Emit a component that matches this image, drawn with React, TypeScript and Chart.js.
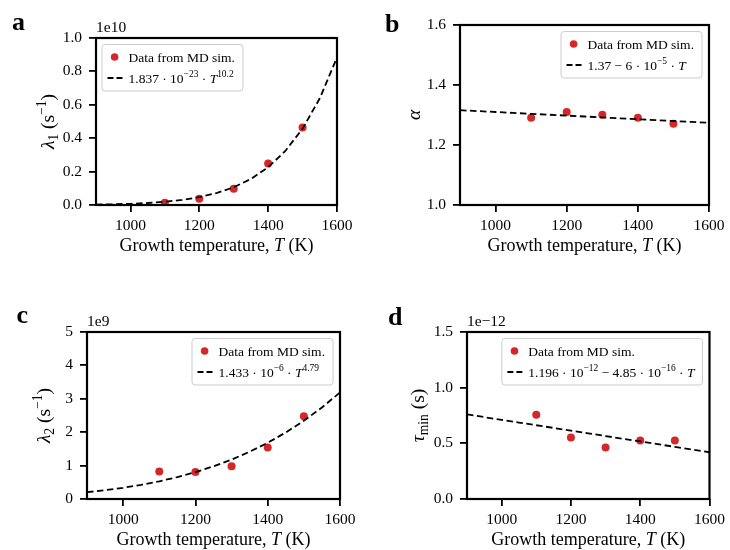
import React, { useEffect, useRef } from "react";
import { Chart, registerables } from "chart.js";

Chart.register(...registerables);

const SERIF = "'Liberation Serif', 'Times New Roman', Times, serif";
const RED = "#d62728";

// ---- shared x data ----
const simT = [1100, 1200, 1300, 1400, 1500];
const fitT = [900, 950, 1000, 1050, 1100, 1150, 1200, 1250, 1300, 1350, 1400, 1450, 1500, 1550, 1600];
const xTicks = [1000, 1200, 1400, 1600];
const xTickLabels = ["1000", "1200", "1400", "1600"];

// ---- panel a: lambda_1 (x 1e10 s^-1) ----
const lambda1Sim = [0.014, 0.038, 0.098, 0.249, 0.464];
const lambda1Fit = [0.0025, 0.0043, 0.0073, 0.012, 0.0193, 0.0304, 0.047, 0.0712, 0.1062, 0.1562, 0.2262, 0.3237, 0.4572, 0.639, 0.8833];
const lambda1Ticks = [0, 0.2, 0.4, 0.6, 0.8, 1.0];
const lambda1TickLabels = ["0.0", "0.2", "0.4", "0.6", "0.8", "1.0"];

// ---- panel b: alpha ----
const alphaSim = [1.291, 1.31, 1.301, 1.291, 1.271];
const alphaFit = [1.316, 1.313, 1.31, 1.307, 1.304, 1.301, 1.298, 1.295, 1.292, 1.289, 1.286, 1.283, 1.28, 1.277, 1.274];
const alphaTicks = [1.0, 1.2, 1.4, 1.6];
const alphaTickLabels = ["1.0", "1.2", "1.4", "1.6"];

// ---- panel c: lambda_2 (x 1e9 s^-1) ----
const lambda2Sim = [0.825, 0.805, 0.984, 1.54, 2.475];
const lambda2Fit = [0.2028, 0.2627, 0.3359, 0.4244, 0.5303, 0.656, 0.8047, 0.9783, 1.1804, 1.4143, 1.6836, 1.9918, 2.3434, 2.7406, 3.19];
const lambda2Ticks = [0, 1, 2, 3, 4, 5];
const lambda2TickLabels = ["0", "1", "2", "3", "4", "5"];

// ---- panel d: tau_min (x 1e-12 s) ----
const tauSim = [0.756, 0.553, 0.463, 0.526, 0.526];
const tauFit = [0.7595, 0.7353, 0.711, 0.6868, 0.6625, 0.6383, 0.614, 0.5898, 0.5655, 0.5413, 0.517, 0.4928, 0.4685, 0.4443, 0.42];
const tauTicks = [0, 0.5, 1.0, 1.5];
const tauTickLabels = ["0.0", "0.5", "1.0", "1.5"];

type Seg = { t: string; it?: boolean; sup?: boolean; sub?: boolean };

const X_TITLE: Seg[] = [{ t: "Growth temperature, " }, { t: "T", it: true }, { t: " (K)" }];
const LEGEND_DATA = "Data from MD sim.";

function segFont(s: Seg, size: number) {
  const sz = s.sup || s.sub ? size * 0.7 : size;
  return `${s.it ? "italic " : ""}${sz}px ${SERIF}`;
}
function measureRich(ctx: CanvasRenderingContext2D, segs: Seg[], size: number) {
  let w = 0;
  for (const s of segs) {
    ctx.font = segFont(s, size);
    w += ctx.measureText(s.t).width;
  }
  return w;
}
function drawRich(ctx: CanvasRenderingContext2D, segs: Seg[], x: number, y: number, size: number) {
  let cx = x;
  for (const s of segs) {
    ctx.font = segFont(s, size);
    const dy = s.sup ? -size * 0.42 : s.sub ? size * 0.22 : 0;
    ctx.fillText(s.t, cx, y + dy);
    cx += ctx.measureText(s.t).width;
  }
}

type Spec = {
  key: string;
  ox: number; oy: number;
  rect: { l: number; r: number; t: number; b: number };
  letter: string; letterX: number; letterY: number;
  offsetText?: string;
  yTitle: Seg[]; yTitleDx: number;
  legendSide: "left" | "right";
  formula: Seg[];
  sim: number[]; fit: number[];
  yMin: number; yMax: number;
  yTicks: number[]; yTickLabels: string[];
};

const specs: Spec[] = [
  {
    key: "a", ox: 0, oy: 0, rect: { l: 96, r: 337, t: 38, b: 205 },
    letter: "a", letterX: 12, letterY: 30, offsetText: "1e10",
    yTitle: [{ t: "λ", it: true }, { t: "1", sub: true }, { t: " (s" }, { t: "−1", sup: true }, { t: ")" }],
    yTitleDx: -42, legendSide: "left",
    formula: [{ t: "1.837 · 10" }, { t: "−23", sup: true }, { t: " · " }, { t: "T", it: true }, { t: "10.2", sup: true }],
    sim: lambda1Sim, fit: lambda1Fit, yMin: 0, yMax: 1.0, yTicks: lambda1Ticks, yTickLabels: lambda1TickLabels,
  },
  {
    key: "b", ox: 365, oy: 0, rect: { l: 460, r: 709, t: 25, b: 205 },
    letter: "b", letterX: 385, letterY: 31.5,
    yTitle: [{ t: "α", it: true }],
    yTitleDx: -40, legendSide: "right",
    formula: [{ t: "1.37 − 6 · 10" }, { t: "−5", sup: true }, { t: " · " }, { t: "T", it: true }],
    sim: alphaSim, fit: alphaFit, yMin: 1.0, yMax: 1.6, yTicks: alphaTicks, yTickLabels: alphaTickLabels,
  },
  {
    key: "c", ox: 0, oy: 275, rect: { l: 87, r: 340, t: 332, b: 499 },
    letter: "c", letterX: 16.5, letterY: 322.5, offsetText: "1e9",
    yTitle: [{ t: "λ", it: true }, { t: "2", sub: true }, { t: " (s" }, { t: "−1", sup: true }, { t: ")" }],
    yTitleDx: -37, legendSide: "right",
    formula: [{ t: "1.433 · 10" }, { t: "−6", sup: true }, { t: " · " }, { t: "T", it: true }, { t: "4.79", sup: true }],
    sim: lambda2Sim, fit: lambda2Fit, yMin: 0, yMax: 5, yTicks: lambda2Ticks, yTickLabels: lambda2TickLabels,
  },
  {
    key: "d", ox: 365, oy: 275, rect: { l: 467, r: 713, t: 332, b: 499 },
    letter: "d", letterX: 388, letterY: 325, offsetText: "1e−12",
    yTitle: [{ t: "τ", it: true }, { t: "min", sub: true }, { t: " (s)" }],
    yTitleDx: -43.5, legendSide: "right",
    formula: [{ t: "1.196 · 10" }, { t: "−12", sup: true }, { t: " − 4.85 · 10" }, { t: "−16", sup: true }, { t: " · " }, { t: "T", it: true }],
    sim: tauSim, fit: tauFit, yMin: 0, yMax: 1.5, yTicks: tauTicks, yTickLabels: tauTickLabels,
  },
];

const CW = 365;
const CH = 275;
const YW = 45;
const XH = 35;

function makeDecor(spec: Spec) {
  return {
    id: "decor" + spec.key,
    afterDraw(chart: any) {
      const ctx: CanvasRenderingContext2D = chart.ctx;
      const ca = chart.chartArea;
      ctx.save();
      ctx.fillStyle = "#000";
      ctx.textAlign = "left";
      ctx.textBaseline = "alphabetic";
      // frame
      ctx.strokeStyle = "#000";
      ctx.lineWidth = 2.2;
      ctx.setLineDash([]);
      ctx.strokeRect(ca.left, ca.top, ca.right - ca.left, ca.bottom - ca.top);
      // panel letter
      ctx.font = `bold 26px ${SERIF}`;
      ctx.fillText(spec.letter, spec.letterX - spec.ox, spec.letterY - spec.oy);
      // offset text
      if (spec.offsetText) {
        ctx.font = `15.5px ${SERIF}`;
        ctx.fillText(spec.offsetText, ca.left, ca.top - 6.5);
      }
      // x title
      const xs = 18;
      const wx = measureRich(ctx, X_TITLE, xs);
      drawRich(ctx, X_TITLE, (ca.left + ca.right) / 2 - wx / 2, ca.bottom + 45.5, xs);
      // y title
      const ys = 19.5;
      const wy = measureRich(ctx, spec.yTitle, ys);
      ctx.save();
      ctx.translate(ca.left + spec.yTitleDx, (ca.top + ca.bottom) / 2);
      ctx.rotate(-Math.PI / 2);
      drawRich(ctx, spec.yTitle, -wy / 2, 0, ys);
      ctx.restore();
      // legend
      const ls = 13.5;
      ctx.font = `${ls}px ${SERIF}`;
      const w1 = ctx.measureText(LEGEND_DATA).width;
      const w2 = measureRich(ctx, spec.formula, ls);
      const boxW = 26.5 + Math.max(w1, w2) + 8;
      const boxH = 46.5;
      const x0 = spec.legendSide === "left" ? ca.left + 6 : ca.right - 7 - boxW;
      const y0 = ca.top + 6.5;
      ctx.beginPath();
      (ctx as any).roundRect(x0, y0, boxW, boxH, 3);
      ctx.fillStyle = "rgba(255,255,255,0.85)";
      ctx.fill();
      ctx.strokeStyle = "#cccccc";
      ctx.lineWidth = 1;
      ctx.stroke();
      // marker
      ctx.fillStyle = RED;
      ctx.beginPath();
      ctx.arc(x0 + 12.6, y0 + 12.5, 3.8, 0, Math.PI * 2);
      ctx.fill();
      // dashed line sample
      ctx.strokeStyle = "#000";
      ctx.lineWidth = 1.8;
      ctx.setLineDash([6, 3]);
      ctx.beginPath();
      ctx.moveTo(x0 + 5.5, y0 + 33.5);
      ctx.lineTo(x0 + 20.5, y0 + 33.5);
      ctx.stroke();
      ctx.setLineDash([]);
      ctx.fillStyle = "#000";
      ctx.font = `${ls}px ${SERIF}`;
      ctx.fillText(LEGEND_DATA, x0 + 26.5, y0 + 17);
      drawRich(ctx, spec.formula, x0 + 26.5, y0 + 38, ls);
      ctx.restore();
    },
  };
}

function Panel({ spec }: { spec: Spec }) {
  const ref = useRef<HTMLCanvasElement>(null);
  useEffect(() => {
    const canvas = ref.current!;
    const pad = {
      left: spec.rect.l - spec.ox - YW,
      right: spec.ox + CW - spec.rect.r,
      top: spec.rect.t - spec.oy,
      bottom: spec.oy + CH - spec.rect.b - XH,
    };
    const tickFont = { family: SERIF, size: 15.5 };
    const chart = new Chart(canvas, {
      type: "scatter",
      data: {
        datasets: [
          {
            label: "fit",
            data: fitT.map((t, i) => ({ x: t, y: spec.fit[i] })),
            showLine: true,
            borderColor: "#000",
            backgroundColor: "#000",
            borderWidth: 1.8,
            borderDash: [6.5, 3.5],
            pointRadius: 0,
            fill: false,
            tension: 0,
          } as any,
          {
            label: LEGEND_DATA,
            data: simT.map((t, i) => ({ x: t, y: spec.sim[i] })),
            pointRadius: 4,
            pointBackgroundColor: RED,
            pointBorderWidth: 0,
            backgroundColor: RED,
            borderColor: RED,
          } as any,
        ],
      },
      options: {
        responsive: false,
        maintainAspectRatio: false,
        animation: false,
        events: [],
        layout: { padding: pad },
        plugins: { legend: { display: false }, tooltip: { enabled: false } },
        scales: {
          x: {
            type: "linear",
            min: 900,
            max: 1600,
            afterBuildTicks: (s: any) => {
              s.ticks = xTicks.map((v) => ({ value: v }));
            },
            afterFit: (s: any) => {
              s.height = XH;
            },
            grid: { drawOnChartArea: false, drawTicks: true, tickLength: 7, color: "#000", lineWidth: 1.8 },
            border: { display: false },
            ticks: {
              color: "#000",
              font: tickFont,
              padding: 5,
              maxRotation: 0,
              autoSkip: false,
              callback: (v: any) => xTickLabels[xTicks.indexOf(v)] ?? "",
            },
          },
          y: {
            type: "linear",
            min: spec.yMin,
            max: spec.yMax,
            afterBuildTicks: (s: any) => {
              s.ticks = spec.yTicks.map((v) => ({ value: v }));
            },
            afterFit: (s: any) => {
              s.width = YW;
            },
            grid: { drawOnChartArea: false, drawTicks: true, tickLength: 7, color: "#000", lineWidth: 1.8 },
            border: { display: false },
            ticks: {
              color: "#000",
              font: tickFont,
              padding: 7,
              autoSkip: false,
              callback: (v: any) => spec.yTickLabels[spec.yTicks.indexOf(v)] ?? "",
            },
          },
        },
      } as any,
      plugins: [makeDecor(spec)],
    });
    return () => chart.destroy();
  }, [spec]);
  return (
    <canvas
      ref={ref}
      width={CW}
      height={CH}
      style={{ position: "absolute", left: spec.ox, top: spec.oy, width: CW, height: CH }}
    />
  );
}

export default function App() {
  return (
    <div style={{ position: "fixed", left: 0, top: 0, width: 730, height: 550, background: "#fff" }}>
      {specs.map((s) => (
        <Panel key={s.key} spec={s} />
      ))}
    </div>
  );
}
